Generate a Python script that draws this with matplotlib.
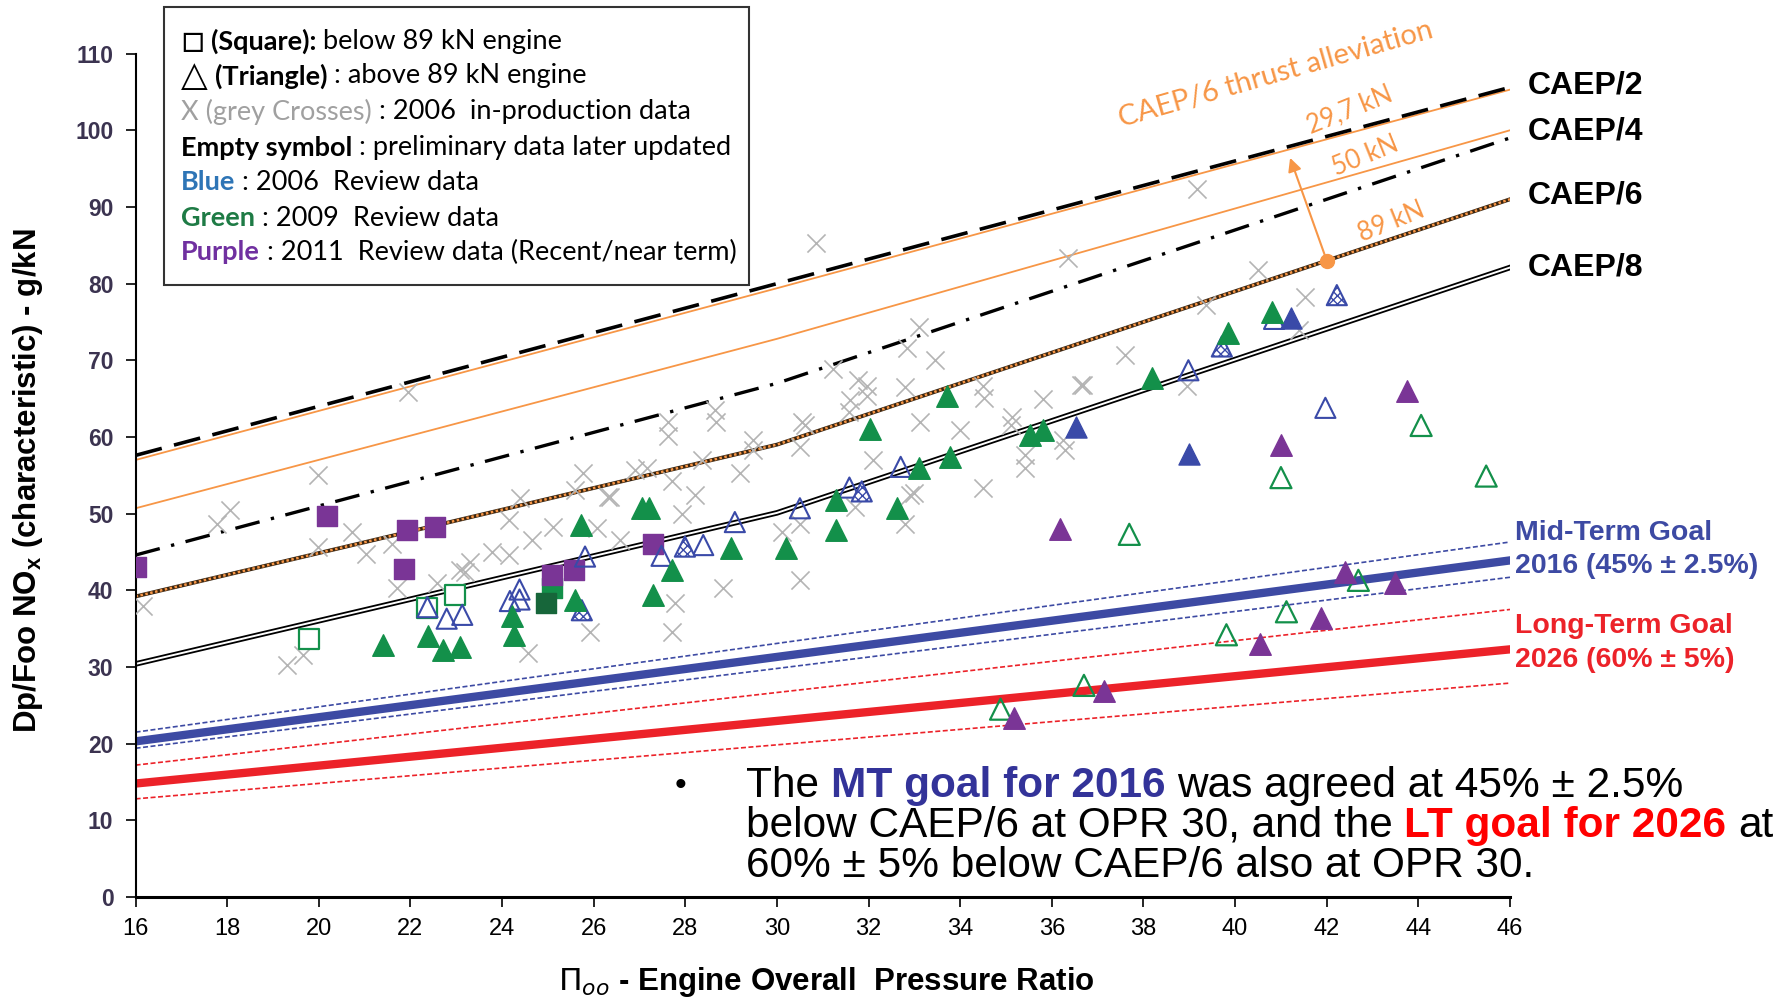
import matplotlib
matplotlib.use("Agg")
import matplotlib.pyplot as plt

# --- regulatory lines, read at OPR 16 / 30 / 46 ---
opr_pts = [16, 30, 46]
caep2 = [57.6, 80.0, 105.6]
caep4 = [44.6, 67.0, 99.0]
caep6 = [39.2, 59.0, 91.0]
caep8 = [30.4, 50.1, 82.1]
thrust_29_7 = [57.0, 79.4, 105.3]
thrust_50 = [50.7, 72.8, 100.0]

goal_opr = [16, 46]
mt_goal = [20.3, 43.9]
mt_upper = [21.5, 46.3]
mt_lower = [19.4, 41.7]
lt_goal = [14.8, 32.3]
lt_upper = [17.2, 37.5]
lt_lower = [12.8, 27.9]

arrow_opr = [42.0, 41.2]
arrow_nox = [83.0, 96.4]

# --- engine data ---
grey_x = [16.17, 19.99, 18.06, 17.77, 19.99, 20.72, 21.04, 21.59, 21.70, 22.57, 19.30, 19.66,
          21.95, 23.08, 23.2, 23.30, 23.77, 24.14, 24.14, 24.39, 24.65, 25.12, 25.77, 25.59,
          26.07, 26.36, 25.92, 24.57, 27.63, 28.65, 29.48, 30.50, 30.54, 31.60, 31.96, 28.36,
          26.90, 27.16, 27.70, 28.21, 29.19, 27.92, 26.32, 26.57, 30.10, 30.50, 31.70, 27.78,
          28.83, 27.70, 30.50, 32.10, 33.12, 33.99, 34.50, 35.12, 35.81, 35.42, 34.50, 32.91,
          33.0, 32.79, 36.25, 36.69, 30.85, 33.1, 32.84, 33.45, 31.23, 31.77, 31.96, 32.80,
          31.57, 34.52, 30.62, 28.66, 27.63, 29.47, 36.36, 39.16, 40.51, 41.53, 39.37, 41.4,
          37.6, 36.64, 38.94, 35.1, 36.29, 35.41]
grey_y = [37.9, 55.0, 50.5, 48.7, 45.7, 47.6, 44.8, 46.1, 40.3, 40.9, 30.3, 31.6,
          65.9, 42.7, 42.4, 43.7, 45.0, 44.6, 49.2, 52.0, 46.6, 48.3, 55.3, 53.1,
          48.1, 52.2, 34.6, 31.8, 62.0, 63.5, 59.6, 58.7, 62.0, 64.8, 66.6, 57.0,
          55.7, 55.9, 54.2, 52.4, 55.3, 50.0, 52.2, 46.6, 47.6, 48.7, 50.9, 38.3,
          40.3, 34.6, 41.3, 57.0, 62.0, 60.9, 66.6, 62.6, 65.0, 57.6, 53.3, 52.4,
          52.7, 48.7, 59.6, 66.8, 85.3, 74.3, 71.6, 70.0, 68.8, 67.4, 65.4, 66.5,
          63.3, 65.1, 61.5, 61.9, 60.1, 58.3, 83.3, 92.4, 81.8, 78.3, 77.2, 74.0,
          70.7, 66.8, 66.6, 61.5, 58.3, 56.0]

green_tri_x = [21.41, 22.39, 22.70, 23.08, 24.21, 24.25, 25.72, 25.59, 27.05, 27.2, 27.70, 27.30,
               29.0, 30.2, 31.28, 31.28, 32.02, 32.61, 33.09, 33.78, 33.71, 35.52, 35.81, 38.18,
               39.85, 40.8]
green_tri_y = [32.9, 34.0, 32.2, 32.6, 36.6, 34.2, 48.5, 38.7, 50.7, 50.7, 42.7, 39.4,
               45.5, 45.5, 51.8, 47.9, 61.1, 50.7, 55.9, 57.4, 65.3, 60.3, 60.9, 67.7,
               73.5, 76.3]
green_open_tri_x = [34.88, 36.70, 37.69, 39.81, 41.0, 41.12, 42.69, 44.06, 45.48]
green_open_tri_y = [24.5, 27.6, 47.3, 34.2, 54.7, 37.2, 41.3, 61.5, 54.9]
green_sq_x = [25.08]
green_sq_y = [40.3]
dark_green_sq_x = [24.96]
dark_green_sq_y = [38.4]
green_open_sq_x = [19.79, 22.37, 22.97]
green_open_sq_y = [33.7, 37.7, 39.4]

blue_tri_x = [36.53, 38.99, 41.21]
blue_tri_y = [61.3, 57.8, 75.5]
blue_hatch_tri_x = [25.74, 27.99, 31.85, 39.71, 42.22]
blue_hatch_tri_y = [37.4, 45.7, 52.9, 71.8, 78.5]
blue_open_tri_x = [22.37, 22.79, 23.13, 24.17, 24.38, 24.38, 25.81, 27.48, 28.39, 29.08,
                   30.50, 31.58, 32.70, 38.98, 40.85, 41.97]
blue_open_tri_y = [37.8, 36.3, 36.8, 38.6, 40.1, 38.8, 44.4, 44.5, 45.9, 48.9,
                   50.7, 53.4, 56.1, 68.7, 75.4, 63.8]

purple_tri_x = [35.18, 36.17, 37.14, 40.55, 41.0, 41.87, 42.39, 43.49, 43.76]
purple_tri_y = [23.3, 48.0, 26.9, 33.0, 58.9, 36.4, 42.4, 41.0, 66.0]
purple_sq_x = [16.0, 20.17, 21.93, 22.54, 21.85, 25.08, 25.57, 27.3]
purple_sq_y = [43.0, 49.7, 47.9, 48.2, 42.8, 42.0, 42.7, 46.1]

W, H = 1787, 1001
NARROW = ["Liberation Sans Narrow", "Liberation Sans", "DejaVu Sans"]
ARIAL = ["Liberation Sans", "DejaVu Sans"]
CALIBRI = ["Lato", "DejaVu Sans"]
ORANGE = "#f79646"
GREEN = "#13904a"
BLUE = "#3a4aa8"
PURPLE = "#7a3596"
MT_BLUE = "#3d4aa3"
LT_RED = "#ec2229"

fig = plt.figure(figsize=(W / 100, H / 100), dpi=100)
ax = fig.add_axes([135.6 / W, 1 - 897 / H, 1374.4 / W, 843.4 / H])
ax.set_xlim(16, 46)
ax.set_ylim(0, 110)

# limit lines
ax.plot(opr_pts, thrust_29_7, color=ORANGE, lw=1.3, zorder=2)
ax.plot(opr_pts, thrust_50, color=ORANGE, lw=1.3, zorder=2)
ax.plot(opr_pts, caep2, color="black", lw=2.6, dashes=(7.5, 3.5), zorder=2)
ax.plot(opr_pts, caep4, color="black", lw=2.4, dashes=(7.5, 3.5, 1, 3.5), zorder=2)
ax.plot(opr_pts, caep6, color="#3a2510", lw=2.8, zorder=2)
ax.plot(opr_pts, caep6, color=ORANGE, lw=1.8, dashes=(1, 1), zorder=2)
ax.plot(opr_pts, caep8, color="black", lw=4.0, zorder=2)
ax.plot(opr_pts, caep8, color="white", lw=1.4, zorder=2)

ax.plot(goal_opr, mt_upper, color=MT_BLUE, lw=1.2, dashes=(3, 1.5), zorder=2)
ax.plot(goal_opr, mt_lower, color=MT_BLUE, lw=1.2, dashes=(3, 1.5), zorder=2)
ax.plot(goal_opr, mt_goal, color=MT_BLUE, lw=6, zorder=2)
ax.plot(goal_opr, lt_upper, color=LT_RED, lw=1.2, dashes=(3, 1.5), zorder=2)
ax.plot(goal_opr, lt_lower, color=LT_RED, lw=1.2, dashes=(3, 1.5), zorder=2)
ax.plot(goal_opr, lt_goal, color=LT_RED, lw=6, zorder=2)

ax.annotate("", xy=(arrow_opr[1], arrow_nox[1]), xytext=(arrow_opr[0], arrow_nox[0]),
            arrowprops=dict(arrowstyle="-|>", color=ORANGE, lw=1.5, mutation_scale=20,
                            shrinkA=0, shrinkB=0), zorder=4)
ax.plot(arrow_opr[0], arrow_nox[0], "o", color=ORANGE, ms=10, zorder=5)

# markers
ax.scatter(grey_x, grey_y, marker="x", s=170, color="#b4b4b4", linewidths=1.2, zorder=3)
ax.scatter(green_open_sq_x, green_open_sq_y, marker="s", s=200, facecolor="white",
           edgecolor=GREEN, linewidths=1.6, zorder=4)
ax.scatter(green_sq_x, green_sq_y, marker="s", s=200, color=GREEN, zorder=4)
ax.scatter(dark_green_sq_x, dark_green_sq_y, marker="s", s=200, color="#17663a", zorder=4)
ax.scatter(purple_sq_x, purple_sq_y, marker="s", s=220, color=PURPLE, zorder=5)
ax.scatter(blue_open_tri_x, blue_open_tri_y, marker="^", s=210, facecolor="none",
           edgecolor=BLUE, linewidths=1.5, zorder=5)
ax.scatter(blue_hatch_tri_x, blue_hatch_tri_y, marker="^", s=210, facecolor="white",
           edgecolor=BLUE, hatch="xxxx", linewidths=1.5, zorder=5)
ax.scatter(blue_tri_x, blue_tri_y, marker="^", s=230, color=BLUE, zorder=5)
ax.scatter(green_open_tri_x, green_open_tri_y, marker="^", s=230, facecolor="none",
           edgecolor=GREEN, linewidths=1.6, zorder=5)
ax.scatter(green_tri_x, green_tri_y, marker="^", s=240, color=GREEN, zorder=6)
ax.scatter(purple_tri_x, purple_tri_y, marker="^", s=240, color=PURPLE, zorder=6)

# axes styling
for s in ["top", "right"]:
    ax.spines[s].set_visible(False)
ax.spines["left"].set_linewidth(1.5)
ax.spines["bottom"].set_linewidth(2.2)
ax.set_xticks(range(16, 47, 2))
ax.set_yticks(range(0, 111, 10))
ax.tick_params(axis="x", direction="out", length=7, width=1.2, pad=8)
ax.tick_params(axis="y", direction="out", length=7, width=1.2, pad=9)
for lab in ax.get_xticklabels():
    lab.set_family(NARROW)
    lab.set_fontsize(17)
for lab in ax.get_yticklabels():
    lab.set_family(ARIAL)
    lab.set_fontsize(16.5)
    lab.set_fontweight("bold")
    lab.set_color("#3b3350")

fig.text(28 / W, 1 - 481 / H, r"Dp/Foo NO$_\mathregular{x}$ (characteristic) - g/kN", rotation=90,
         ha="center", va="center", fontsize=22.5, fontweight="bold", family=NARROW)
fig.text(826 / W, 1 - 982 / H, r"$\Pi_{oo}$ - Engine Overall  Pressure Ratio",
         ha="center", va="center", fontsize=22.5, fontweight="bold", family=NARROW)

# right hand labels
for lab, yy in [("CAEP/2", 85), ("CAEP/4", 131), ("CAEP/6", 196), ("CAEP/8", 268)]:
    fig.text(1528 / W, 1 - yy / H, lab, ha="left", va="center", fontsize=23,
             fontweight="bold", family=NARROW)
for lab, yy, col in [("Mid-Term Goal", 533, MT_BLUE), ("2016 (45% ± 2.5%)", 566, MT_BLUE),
                     ("Long-Term Goal", 626, LT_RED), ("2026 (60% ± 5%)", 660, LT_RED)]:
    fig.text(1515 / W, 1 - yy / H, lab, ha="left", va="center", fontsize=20.5,
             fontweight="bold", family=ARIAL, color=col)

# orange thrust labels
fig.text(1276 / W, 1 - 74 / H, "CAEP/6 thrust alleviation", ha="center", va="center",
         rotation=16, fontsize=21, color=ORANGE, family=CALIBRI)
for lab, xx, yy in [("29,7 kN", 1350, 110), ("50 kN", 1365, 156), ("89 kN", 1391, 222)]:
    fig.text(xx / W, 1 - yy / H, lab, ha="center", va="center", rotation=22,
             fontsize=18.5, color=ORANGE, family=CALIBRI)

renderer = fig.canvas.get_renderer()


def text_width(s, size, family, weight):
    t = fig.text(0, 0, s, fontsize=size, family=family, fontweight=weight)
    w = t.get_window_extent(renderer).width
    t.remove()
    return w


def draw_runs(x, y, runs, size, family):
    space = text_width("a a", size, family, "normal") - text_width("aa", size, family, "normal")
    for run in runs:
        s, color, weight = run[:3]
        fs = run[3] if len(run) > 3 else size
        if s.startswith(" "):
            x += space
        s2 = s.strip()
        t = fig.text(x / W, 1 - y / H, s2, color=color, fontweight=weight, fontsize=fs,
                     family=family, ha="left", va="center")
        x += t.get_window_extent(renderer).width
        if s.endswith(" "):
            x += space


# legend box
fig.patches.append(plt.Rectangle((164 / W, 1 - 285 / H), 585 / W, 278 / H, transform=fig.transFigure,
                                 facecolor="white", edgecolor="#333333", lw=1.5, zorder=1))
K = "black"
legend_rows = [
    (41, [("□ ", K, "normal", 27), ("(Square):", K, "bold"), (" below 89 kN engine", K, "normal")]),
    (76, [("△ ", K, "normal", 25), ("(Triangle)", K, "bold"), (" : above 89 kN engine", K, "normal")]),
    (112, [("X (grey Crosses)", "#a0a0a0", "normal"), (" : 2006  in-production data", K, "normal")]),
    (148, [("Empty symbol", K, "bold"), (" : preliminary data later updated", K, "normal")]),
    (182, [("Blue", "#2e75b6", "bold"), (" : 2006  Review data", K, "normal")]),
    (218, [("Green", "#1e7b45", "bold"), (" : 2009  Review data", K, "normal")]),
    (252, [("Purple", "#7030a0", "bold"), (" : 2011  Review data (Recent/near term)", K, "normal")]),
]
for yy, runs in legend_rows:
    draw_runs(181, yy, runs, 19.5, CALIBRI)

# bullet text
fig.text(681 / W, 1 - 786 / H, "•", ha="center", va="center", fontsize=24, family=ARIAL)
bullet_rows = [
    (786, [("The ", K, "normal"), ("MT goal for 2016", "#333399", "bold"),
           (" was agreed at 45% ± 2.5%", K, "normal")]),
    (826, [("below CAEP/6 at OPR 30, and the ", K, "normal"), ("LT goal for 2026", "#ff0000", "bold"),
           (" at", K, "normal")]),
    (866, [("60% ± 5% below CAEP/6 also at OPR 30.", K, "normal")]),
]
for yy, runs in bullet_rows:
    draw_runs(746, yy, runs, 30.5, ARIAL)

fig.savefig("out.png", dpi=100, facecolor="white")
